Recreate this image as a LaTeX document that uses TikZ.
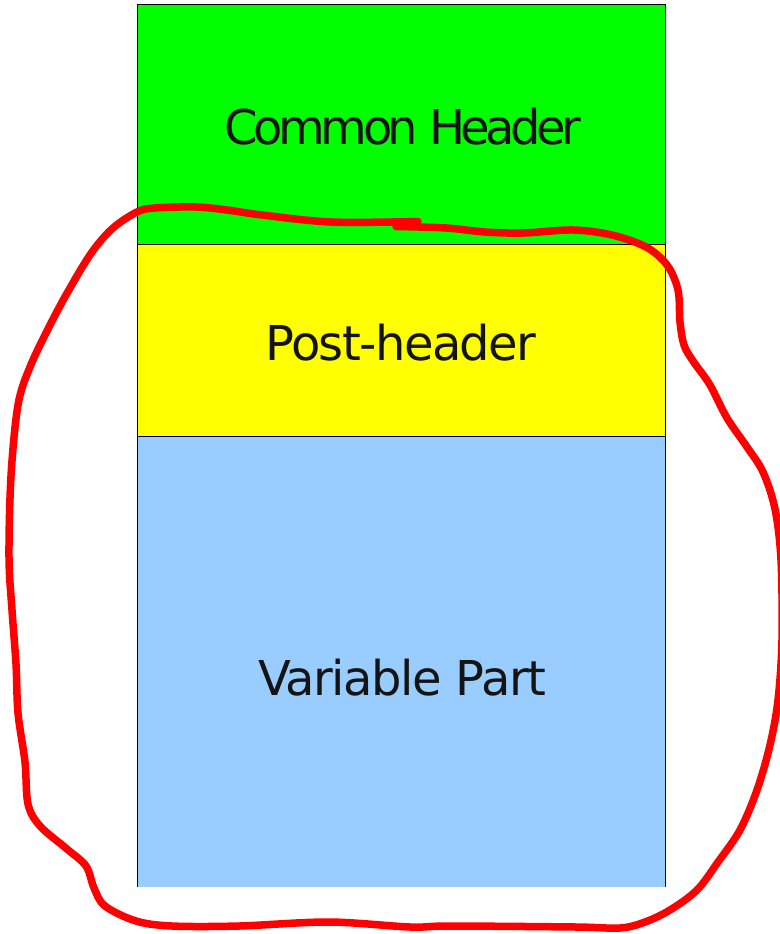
\documentclass[tikz,border=0pt]{standalone}
\usepackage{fontspec}
\setmainfont{DejaVu Sans}
\definecolor{partgreen}{HTML}{00FF00}
\definecolor{partyellow}{HTML}{FFFF00}
\definecolor{partblue}{HTML}{99CCFF}
\definecolor{inkgray}{HTML}{141414}
\begin{document}
\begin{tikzpicture}[x=1pt,y=-1pt,
  field/.style={draw=none, minimum width=528pt, minimum height=#1,
    inner sep=0pt, outer sep=0pt, anchor=north west},
  fieldtext/.style={anchor=base, inner sep=0pt, text=inkgray},
  edgeline/.style={draw=black, line width=0.9pt},
  circling/.style={draw=red, line width=7.5pt, line cap=round, line join=round}]
\useasboundingbox (0,0) rectangle (779,934);
\fill[white] (0,0) rectangle (779,934);

% the three stacked message parts
\node[field=240pt, fill=partgreen]  (common)   at (137,4)   {};
\node[field=192pt, fill=partyellow] (post)     at (137,244) {};
\node[field=451pt, fill=partblue]   (variable) at (137,436) {};

% outline and separators (open at the bottom)
\draw[edgeline] (variable.south west) -- (common.north west)
  -- (common.north east) -- (variable.south east);
\draw[edgeline] (post.north west) -- (post.north east);
\draw[edgeline] (variable.north west) -- (variable.north east);

% labels
\node[fieldtext, font={\fontsize{48}{52}\selectfont\addfontfeature{LetterSpace=-9.5}}]
  (commontext) at (403,144) {Common Header};
\node[fieldtext, font={\fontsize{48}{52}\selectfont\addfontfeature{LetterSpace=-3.3}}]
  (posttext) at (401,360) {Post-header};
\node[fieldtext, font={\fontsize{48}{52}\selectfont\addfontfeature{LetterSpace=-3.1}}]
  (variabletext) at (402,695) {Variable Part};

% hand-drawn loop around post-header and variable part
\draw[circling] plot[smooth, tension=0.55] coordinates {
  (396,226.5) (446,228) (485,232) (523,233) (573,230) (612,235) (646,247)
  (667,265) (678,290) (680,322) (684,345) (693,361) (710,385) (727,418)
  (747,447) (763,472) (775,509) (781,560) (782,640) (778,700) (770,745)
  (757,790) (740,830) (718,862) (697,890) (670,910) (645,922) (620,928)
  (576,927) (450,926) (410,927) (329,922) (239,926) (172,926) (136,921)
  (105,906) (94,888) (86,866) (67,849) (40,826) (28,804) (25,762)
  (18,713) (16,664) (12,610) (9,557) (11,476) (18,405) (30,367) (50,325)
  (70,288) (92,252) (113,228) (137,212) (155,208) (196,207) (227,210)
  (262,215) (331,222) (418,221.5)};
\end{tikzpicture}
\end{document}
